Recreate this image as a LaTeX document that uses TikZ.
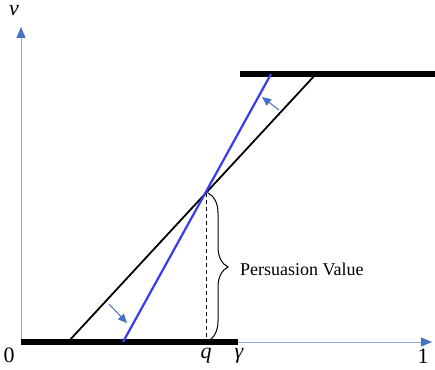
\documentclass[tikz,border=0pt]{standalone}
\usepackage{fontspec}
\setmainfont{Liberation Serif}
\usetikzlibrary{arrows.meta,decorations.pathreplacing}
\definecolor{axisblue}{HTML}{8FAADC}
\definecolor{tipblue}{HTML}{4472C4}
\definecolor{lineblue}{HTML}{3A3AF0}
\tikzset{
  axisline/.style={draw=axisblue, line width=1pt, -{Triangle[length=11pt,width=9pt,fill=tipblue,color=tipblue]}},
  bar/.style={line width=6pt, black},
  shiftarrow/.style={draw=tipblue, line width=1pt, -{Triangle[length=9pt,width=8pt,fill=tipblue,color=tipblue]}},
  lbl/.style={font=\fontsize{18}{20}\selectfont, inner sep=0pt},
  mlbl/.style={font=\fontsize{22}{26}\selectfont, inner sep=0pt}
}
\begin{document}
\begin{tikzpicture}[x=1pt,y=-1pt]
\useasboundingbox (0,0) rectangle (435,369);
% coordinates
\coordinate (O) at (21,342);
\coordinate (Ytop) at (21,27);
\coordinate (Xend) at (432,342);
\coordinate (B1) at (238,342);
\coordinate (T0) at (240,74);
\coordinate (T1) at (435,74);
\coordinate (K0) at (68,342);
\coordinate (K1) at (316,74);
\coordinate (L0) at (123,342);
\coordinate (L1) at (271,74);
\coordinate (P) at (206,193);
\coordinate (Pb) at (206,342);
\coordinate (BrA) at (208,193);
\coordinate (BrB) at (208,341);
\coordinate (A1s) at (109,304);
\coordinate (A1e) at (127,323);
\coordinate (A2s) at (279,110);
\coordinate (A2e) at (262,97);
% axes
\draw[axisline] (O) -- (Ytop);
\draw[axisline] (O) -- (Xend);
% bars
\draw[bar] (O) -- (B1);
\draw[bar] (T0) -- (T1);
% lines
\draw[black, line width=1.8pt] (K0) -- (K1);
\draw[lineblue, line width=2.2pt] (L0) -- (L1);
% dashed
\draw[black, line width=0.9pt, dash pattern=on 4pt off 3pt] (P) -- (Pb);
% brace
\draw[black, line width=1pt, decorate, decoration={brace, amplitude=20pt}] (BrA) -- (BrB);
\node[lbl, anchor=west] (pv) at (240,269) {Persuasion Value};
% shift arrows
\draw[shiftarrow] (A1s) -- (A1e);
\draw[shiftarrow] (A2s) -- (A2e);
% labels
\node[mlbl] (lv) at (14,11) {\itshape v};
\node[mlbl] (l0) at (9,355) {0};
\node[mlbl] (lq) at (206,356) {\itshape q};
\node[mlbl] (lg) at (239,356) {\itshape γ};
\node[mlbl] (l1) at (423,356) {1};
\end{tikzpicture}
\end{document}
